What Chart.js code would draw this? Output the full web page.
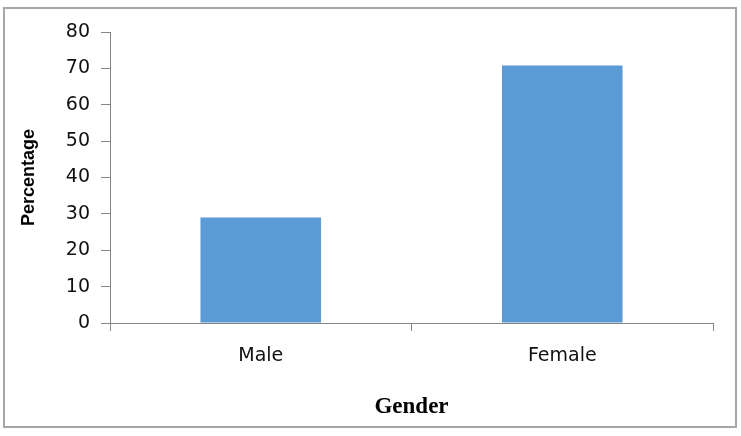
<!DOCTYPE html>
<html>
<head>
<meta charset="utf-8">
<script src="https://cdn.jsdelivr.net/npm/chart.js@4/dist/chart.umd.min.js"></script>
<style>
  html, body { margin: 0; padding: 0; background: #fff; }
  #wrap { width: 741px; height: 436px; position: relative; }
</style>
</head>
<body>
<div id="wrap"><canvas id="gender-chart" width="741" height="436"></canvas></div>
<script>
// Gender distribution (percent)
const categories = ['Male', 'Female'];
const percentages = [29, 70.8];
const yTicks = [0, 10, 20, 30, 40, 50, 60, 70, 80];

const axisGray = '#868686';

// outer frame like the exported chart
const framePlugin = {
  id: 'frame',
  afterDraw(chart) {
    const ctx = chart.ctx;
    ctx.save();
    ctx.strokeStyle = '#a6a6a6';
    ctx.lineWidth = 2;
    ctx.strokeRect(4, 8, 732, 419);
    ctx.restore();
  }
};

const ctx = document.getElementById('gender-chart').getContext('2d');
new Chart(ctx, {
  type: 'bar',
  data: {
    labels: categories,
    datasets: [{
      label: 'Percentage',
      data: percentages,
      backgroundColor: '#5b9bd5',
      borderWidth: 0,
      categoryPercentage: 1,
      barPercentage: 0.4
    }]
  },
  options: {
    responsive: false,
    animation: false,
    devicePixelRatio: 1,
    layout: { padding: { top: 32, right: 28, bottom: 0, left: 0 } },
    plugins: {
      legend: { display: false },
      tooltip: { enabled: false }
    },
    scales: {
      x: {
        grid: {
          drawOnChartArea: false,
          drawTicks: true,
          tickLength: 8,
          color: axisGray,
          offset: true
        },
        border: { color: axisGray, width: 1 },
        ticks: {
          color: '#111',
          padding: 14,
          font: { family: 'DejaVu Sans', size: 19 }
        },
        title: {
          display: true,
          text: 'Gender',
          color: '#000',
          padding: { top: 0, bottom: 15 },
          font: { family: 'Liberation Serif', size: 23, weight: 'bold' }
        },
        afterFit(scale) { scale.height = 113; }
      },
      y: {
        min: 0,
        max: 80,
        afterBuildTicks(scale) {
          scale.ticks = yTicks.map(v => ({ value: v }));
        },
        grid: {
          drawOnChartArea: false,
          drawTicks: true,
          tickLength: 9,
          color: axisGray
        },
        border: { color: axisGray, width: 1 },
        ticks: {
          color: '#111',
          padding: 11,
          font: { family: 'DejaVu Sans', size: 19 }
        },
        title: {
          display: true,
          text: 'Percentage',
          color: '#000',
          padding: { top: 18, bottom: 0 },
          font: { family: 'Liberation Sans', size: 18, weight: 'bold' }
        },
        afterFit(scale) { scale.width = 110; }
      }
    }
  },
  plugins: [framePlugin]
});
</script>
</body>
</html>
